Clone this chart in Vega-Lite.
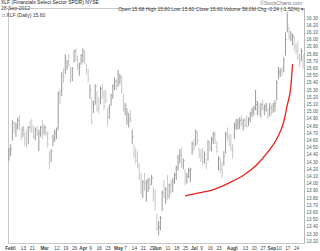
{
  "$schema": "https://vega.github.io/schema/vega-lite/v6.json",
  "width": 296,
  "height": 235,
  "autosize": {"type": "none"},
  "padding": {"left": 8, "top": 8, "right": 16, "bottom": 8},
  "background": "white",
  "title": {
    "text": "XLF (Financials Select Sector SPDR) NYSE",
    "subtitle": "28-Sep-2012",
    "anchor": "start",
    "frame": "group",
    "fontSize": 5,
    "subtitleFontSize": 5,
    "font": "Liberation Sans",
    "subtitleFont": "Liberation Sans",
    "fontWeight": "normal",
    "color": "#222",
    "subtitleColor": "#444",
    "subtitlePadding": 1,
    "offset": -10,
    "dx": -7
  },
  "datasets": {
    "ohlc": [
      {"d":"2012-02-01","o":14.35,"h":14.50,"l":14.32,"c":14.45},
      {"d":"2012-02-02","o":14.45,"h":14.55,"l":14.38,"c":14.48},
      {"d":"2012-02-03","o":14.62,"h":14.88,"l":14.60,"c":14.85},
      {"d":"2012-02-06","o":14.80,"h":14.85,"l":14.70,"c":14.78},
      {"d":"2012-02-07","o":14.75,"h":14.85,"l":14.65,"c":14.80},
      {"d":"2012-02-08","o":14.80,"h":14.92,"l":14.75,"c":14.88},
      {"d":"2012-02-09","o":14.90,"h":14.95,"l":14.75,"c":14.82},
      {"d":"2012-02-10","o":14.70,"h":14.78,"l":14.60,"c":14.65},
      {"d":"2012-02-13","o":14.72,"h":14.80,"l":14.65,"c":14.75},
      {"d":"2012-02-14","o":14.70,"h":14.72,"l":14.52,"c":14.62},
      {"d":"2012-02-15","o":14.65,"h":14.75,"l":14.50,"c":14.55},
      {"d":"2012-02-16","o":14.58,"h":14.80,"l":14.55,"c":14.78},
      {"d":"2012-02-17","o":14.82,"h":14.88,"l":14.72,"c":14.78},
      {"d":"2012-02-21","o":14.82,"h":14.90,"l":14.70,"c":14.80},
      {"d":"2012-02-22","o":14.75,"h":14.80,"l":14.62,"c":14.65},
      {"d":"2012-02-23","o":14.65,"h":14.78,"l":14.60,"c":14.75},
      {"d":"2012-02-24","o":14.78,"h":14.80,"l":14.66,"c":14.70},
      {"d":"2012-02-27","o":14.60,"h":14.75,"l":14.45,"c":14.70},
      {"d":"2012-02-28","o":14.72,"h":14.80,"l":14.65,"c":14.78},
      {"d":"2012-02-29","o":14.80,"h":14.88,"l":14.62,"c":14.66},
      {"d":"2012-03-01","o":14.72,"h":14.82,"l":14.68,"c":14.78},
      {"d":"2012-03-02","o":14.76,"h":14.80,"l":14.66,"c":14.70},
      {"d":"2012-03-05","o":14.65,"h":14.72,"l":14.50,"c":14.55},
      {"d":"2012-03-06","o":14.40,"h":14.45,"l":14.20,"c":14.28},
      {"d":"2012-03-07","o":14.35,"h":14.48,"l":14.30,"c":14.45},
      {"d":"2012-03-08","o":14.55,"h":14.68,"l":14.52,"c":14.62},
      {"d":"2012-03-09","o":14.68,"h":14.75,"l":14.58,"c":14.70},
      {"d":"2012-03-12","o":14.70,"h":14.78,"l":14.62,"c":14.74},
      {"d":"2012-03-13","o":14.78,"h":15.28,"l":14.75,"c":15.25},
      {"d":"2012-03-14","o":15.25,"h":15.32,"l":15.10,"c":15.22},
      {"d":"2012-03-15","o":15.25,"h":15.55,"l":15.22,"c":15.50},
      {"d":"2012-03-16","o":15.50,"h":15.60,"l":15.40,"c":15.48},
      {"d":"2012-03-19","o":15.55,"h":15.80,"l":15.52,"c":15.75},
      {"d":"2012-03-20","o":15.65,"h":15.72,"l":15.58,"c":15.68},
      {"d":"2012-03-21","o":15.70,"h":15.80,"l":15.62,"c":15.65},
      {"d":"2012-03-22","o":15.55,"h":15.62,"l":15.40,"c":15.48},
      {"d":"2012-03-23","o":15.48,"h":15.62,"l":15.42,"c":15.60},
      {"d":"2012-03-26","o":15.70,"h":15.86,"l":15.68,"c":15.84},
      {"d":"2012-03-27","o":15.84,"h":15.88,"l":15.70,"c":15.72},
      {"d":"2012-03-28","o":15.72,"h":15.78,"l":15.58,"c":15.62},
      {"d":"2012-03-29","o":15.55,"h":15.68,"l":15.50,"c":15.62},
      {"d":"2012-03-30","o":15.70,"h":15.80,"l":15.65,"c":15.78},
      {"d":"2012-04-02","o":15.75,"h":15.88,"l":15.68,"c":15.85},
      {"d":"2012-04-03","o":15.82,"h":15.85,"l":15.66,"c":15.72},
      {"d":"2012-04-04","o":15.60,"h":15.66,"l":15.52,"c":15.58},
      {"d":"2012-04-05","o":15.55,"h":15.60,"l":15.40,"c":15.45},
      {"d":"2012-04-09","o":15.25,"h":15.38,"l":15.18,"c":15.30},
      {"d":"2012-04-10","o":15.18,"h":15.20,"l":14.82,"c":14.86},
      {"d":"2012-04-11","o":15.02,"h":15.15,"l":14.98,"c":15.10},
      {"d":"2012-04-12","o":15.12,"h":15.38,"l":15.10,"c":15.35},
      {"d":"2012-04-13","o":15.25,"h":15.28,"l":15.00,"c":15.02},
      {"d":"2012-04-16","o":15.10,"h":15.20,"l":14.98,"c":15.05},
      {"d":"2012-04-17","o":15.12,"h":15.35,"l":15.10,"c":15.32},
      {"d":"2012-04-18","o":15.30,"h":15.38,"l":15.18,"c":15.22},
      {"d":"2012-04-19","o":15.20,"h":15.30,"l":15.02,"c":15.08},
      {"d":"2012-04-20","o":15.20,"h":15.30,"l":15.12,"c":15.15},
      {"d":"2012-04-23","o":14.98,"h":15.05,"l":14.80,"c":14.92},
      {"d":"2012-04-24","o":14.95,"h":15.10,"l":14.90,"c":15.05},
      {"d":"2012-04-25","o":15.12,"h":15.25,"l":15.08,"c":15.22},
      {"d":"2012-04-26","o":15.22,"h":15.38,"l":15.18,"c":15.35},
      {"d":"2012-04-27","o":15.38,"h":15.48,"l":15.30,"c":15.42},
      {"d":"2012-04-30","o":15.40,"h":15.45,"l":15.30,"c":15.35},
      {"d":"2012-05-01","o":15.38,"h":15.58,"l":15.35,"c":15.52},
      {"d":"2012-05-02","o":15.45,"h":15.52,"l":15.38,"c":15.48},
      {"d":"2012-05-03","o":15.48,"h":15.50,"l":15.25,"c":15.30},
      {"d":"2012-05-04","o":15.20,"h":15.25,"l":15.00,"c":15.05},
      {"d":"2012-05-07","o":15.00,"h":15.12,"l":14.95,"c":15.08},
      {"d":"2012-05-08","o":14.95,"h":15.05,"l":14.82,"c":14.98},
      {"d":"2012-05-09","o":14.85,"h":14.98,"l":14.78,"c":14.90},
      {"d":"2012-05-10","o":14.95,"h":15.02,"l":14.85,"c":14.88},
      {"d":"2012-05-11","o":14.60,"h":14.75,"l":14.55,"c":14.65},
      {"d":"2012-05-14","o":14.50,"h":14.55,"l":14.35,"c":14.40},
      {"d":"2012-05-15","o":14.42,"h":14.50,"l":14.28,"c":14.32},
      {"d":"2012-05-16","o":14.35,"h":14.45,"l":14.22,"c":14.25},
      {"d":"2012-05-17","o":14.22,"h":14.28,"l":14.05,"c":14.08},
      {"d":"2012-05-18","o":14.10,"h":14.15,"l":13.85,"c":13.92},
      {"d":"2012-05-21","o":13.92,"h":14.05,"l":13.80,"c":14.02},
      {"d":"2012-05-22","o":14.05,"h":14.15,"l":13.90,"c":14.00},
      {"d":"2012-05-23","o":13.85,"h":14.05,"l":13.75,"c":14.02},
      {"d":"2012-05-24","o":14.02,"h":14.08,"l":13.88,"c":14.05},
      {"d":"2012-05-25","o":14.02,"h":14.08,"l":13.92,"c":13.98},
      {"d":"2012-05-29","o":14.05,"h":14.12,"l":13.98,"c":14.08},
      {"d":"2012-05-30","o":13.90,"h":13.95,"l":13.75,"c":13.80},
      {"d":"2012-05-31","o":13.82,"h":13.92,"l":13.62,"c":13.72},
      {"d":"2012-06-01","o":13.55,"h":13.58,"l":13.35,"c":13.38},
      {"d":"2012-06-04","o":13.38,"h":13.48,"l":13.28,"c":13.40},
      {"d":"2012-06-05","o":13.40,"h":13.55,"l":13.35,"c":13.52},
      {"d":"2012-06-06","o":13.65,"h":13.90,"l":13.62,"c":13.88},
      {"d":"2012-06-07","o":13.98,"h":14.05,"l":13.80,"c":13.82},
      {"d":"2012-06-08","o":13.78,"h":13.95,"l":13.72,"c":13.92},
      {"d":"2012-06-11","o":14.08,"h":14.12,"l":13.78,"c":13.80},
      {"d":"2012-06-12","o":13.85,"h":14.00,"l":13.80,"c":13.98},
      {"d":"2012-06-13","o":13.95,"h":14.05,"l":13.85,"c":13.90},
      {"d":"2012-06-14","o":13.92,"h":14.08,"l":13.88,"c":14.02},
      {"d":"2012-06-15","o":14.05,"h":14.15,"l":14.00,"c":14.12},
      {"d":"2012-06-18","o":14.12,"h":14.25,"l":14.05,"c":14.22},
      {"d":"2012-06-19","o":14.22,"h":14.40,"l":14.18,"c":14.35},
      {"d":"2012-06-20","o":14.35,"h":14.48,"l":14.28,"c":14.40},
      {"d":"2012-06-21","o":14.42,"h":14.50,"l":14.22,"c":14.25},
      {"d":"2012-06-22","o":14.28,"h":14.35,"l":14.20,"c":14.32},
      {"d":"2012-06-25","o":14.15,"h":14.20,"l":13.98,"c":14.02},
      {"d":"2012-06-26","o":14.05,"h":14.15,"l":14.00,"c":14.10},
      {"d":"2012-06-27","o":14.12,"h":14.22,"l":14.08,"c":14.18},
      {"d":"2012-06-28","o":14.10,"h":14.22,"l":14.02,"c":14.20},
      {"d":"2012-06-29","o":14.45,"h":14.58,"l":14.40,"c":14.55},
      {"d":"2012-07-02","o":14.55,"h":14.62,"l":14.45,"c":14.50},
      {"d":"2012-07-03","o":14.55,"h":14.75,"l":14.52,"c":14.72},
      {"d":"2012-07-05","o":14.65,"h":14.72,"l":14.55,"c":14.60},
      {"d":"2012-07-06","o":14.45,"h":14.50,"l":14.35,"c":14.42},
      {"d":"2012-07-09","o":14.40,"h":14.48,"l":14.30,"c":14.38},
      {"d":"2012-07-10","o":14.42,"h":14.50,"l":14.25,"c":14.30},
      {"d":"2012-07-11","o":14.32,"h":14.45,"l":14.28,"c":14.40},
      {"d":"2012-07-12","o":14.30,"h":14.35,"l":14.20,"c":14.28},
      {"d":"2012-07-13","o":14.35,"h":14.60,"l":14.32,"c":14.58},
      {"d":"2012-07-16","o":14.52,"h":14.58,"l":14.45,"c":14.50},
      {"d":"2012-07-17","o":14.55,"h":14.65,"l":14.45,"c":14.62},
      {"d":"2012-07-18","o":14.60,"h":14.72,"l":14.55,"c":14.68},
      {"d":"2012-07-19","o":14.70,"h":14.72,"l":14.55,"c":14.60},
      {"d":"2012-07-20","o":14.50,"h":14.58,"l":14.42,"c":14.45},
      {"d":"2012-07-23","o":14.25,"h":14.38,"l":14.18,"c":14.35},
      {"d":"2012-07-24","o":14.30,"h":14.35,"l":14.15,"c":14.20},
      {"d":"2012-07-25","o":14.22,"h":14.30,"l":14.08,"c":14.15},
      {"d":"2012-07-26","o":14.35,"h":14.45,"l":14.25,"c":14.38},
      {"d":"2012-07-27","o":14.45,"h":14.72,"l":14.42,"c":14.68},
      {"d":"2012-07-30","o":14.68,"h":14.78,"l":14.60,"c":14.65},
      {"d":"2012-07-31","o":14.62,"h":14.70,"l":14.52,"c":14.55},
      {"d":"2012-08-01","o":14.60,"h":14.68,"l":14.45,"c":14.50},
      {"d":"2012-08-02","o":14.48,"h":14.55,"l":14.35,"c":14.45},
      {"d":"2012-08-03","o":14.65,"h":14.85,"l":14.62,"c":14.80},
      {"d":"2012-08-06","o":14.82,"h":14.90,"l":14.75,"c":14.82},
      {"d":"2012-08-07","o":14.80,"h":14.90,"l":14.75,"c":14.85},
      {"d":"2012-08-08","o":14.82,"h":14.92,"l":14.76,"c":14.88},
      {"d":"2012-08-09","o":14.88,"h":14.95,"l":14.80,"c":14.84},
      {"d":"2012-08-10","o":14.80,"h":14.90,"l":14.74,"c":14.88},
      {"d":"2012-08-13","o":14.85,"h":14.92,"l":14.78,"c":14.82},
      {"d":"2012-08-14","o":14.86,"h":14.95,"l":14.78,"c":14.80},
      {"d":"2012-08-15","o":14.82,"h":14.92,"l":14.80,"c":14.90},
      {"d":"2012-08-16","o":14.90,"h":15.00,"l":14.85,"c":14.98},
      {"d":"2012-08-17","o":14.98,"h":15.05,"l":14.92,"c":15.02},
      {"d":"2012-08-20","o":15.00,"h":15.08,"l":14.95,"c":15.05},
      {"d":"2012-08-21","o":15.10,"h":15.30,"l":15.02,"c":15.10},
      {"d":"2012-08-22","o":15.08,"h":15.15,"l":14.95,"c":15.12},
      {"d":"2012-08-23","o":15.05,"h":15.10,"l":14.95,"c":14.98},
      {"d":"2012-08-24","o":14.98,"h":15.12,"l":14.92,"c":15.10},
      {"d":"2012-08-27","o":15.10,"h":15.16,"l":15.02,"c":15.05},
      {"d":"2012-08-28","o":15.02,"h":15.10,"l":14.95,"c":15.06},
      {"d":"2012-08-29","o":15.06,"h":15.12,"l":15.00,"c":15.08},
      {"d":"2012-08-30","o":15.00,"h":15.05,"l":14.90,"c":14.95},
      {"d":"2012-08-31","o":15.00,"h":15.12,"l":14.93,"c":15.05},
      {"d":"2012-09-04","o":15.05,"h":15.10,"l":14.95,"c":15.02},
      {"d":"2012-09-05","o":15.02,"h":15.12,"l":14.98,"c":15.08},
      {"d":"2012-09-06","o":15.05,"h":15.16,"l":15.00,"c":15.12},
      {"d":"2012-09-07","o":15.18,"h":15.44,"l":15.16,"c":15.40},
      {"d":"2012-09-10","o":15.45,"h":15.62,"l":15.45,"c":15.55},
      {"d":"2012-09-11","o":15.52,"h":15.60,"l":15.48,"c":15.58},
      {"d":"2012-09-12","o":15.58,"h":15.62,"l":15.50,"c":15.55},
      {"d":"2012-09-13","o":15.60,"h":15.76,"l":15.55,"c":15.72},
      {"d":"2012-09-14","o":15.80,"h":16.10,"l":15.78,"c":16.00},
      {"d":"2012-09-17","o":16.15,"h":16.38,"l":16.10,"c":16.20},
      {"d":"2012-09-18","o":16.15,"h":16.18,"l":16.00,"c":16.05},
      {"d":"2012-09-19","o":16.05,"h":16.12,"l":15.98,"c":16.08},
      {"d":"2012-09-20","o":16.02,"h":16.08,"l":15.92,"c":16.05},
      {"d":"2012-09-21","o":16.02,"h":16.05,"l":15.85,"c":15.90},
      {"d":"2012-09-24","o":15.88,"h":15.95,"l":15.80,"c":15.85},
      {"d":"2012-09-25","o":15.90,"h":15.98,"l":15.72,"c":15.75},
      {"d":"2012-09-26","o":15.72,"h":15.80,"l":15.62,"c":15.68},
      {"d":"2012-09-27","o":15.72,"h":15.88,"l":15.70,"c":15.84},
      {"d":"2012-09-28","o":15.68,"h":15.80,"l":15.60,"c":15.60}
    ],
    "arc": [
      {"d":"2012-06-25","p":13.83},
      {"d":"2012-07-06","p":13.87},
      {"d":"2012-07-19","p":13.925},
      {"d":"2012-07-31","p":14.01},
      {"d":"2012-08-13","p":14.13},
      {"d":"2012-08-22","p":14.27},
      {"d":"2012-08-30","p":14.44},
      {"d":"2012-09-07","p":14.62},
      {"d":"2012-09-13","p":14.86},
      {"d":"2012-09-17","p":15.09},
      {"d":"2012-09-19","p":15.34},
      {"d":"2012-09-20","p":15.66}
    ]
  },
  "layer": [
    {
      "data": {"name": "ohlc"},
      "mark": {"type": "rule", "strokeWidth": 1},
      "encoding": {
        "x": {
          "field": "d",
          "type": "ordinal",
          "scale": {"type": "point", "padding": 0.5},
          "axis": {
            "orient": "bottom",
            "title": null,
            "domain": false,
            "ticks": false,
            "grid": false,
            "labelAngle": 0,
            "labelOverlap": false,
            "labelBound": false,
            "labelFontSize": 4.7,
            "labelFont": "Liberation Sans",
            "labelColor": "#444",
            "labelPadding": 2,
            "values": ["2012-02-01","2012-02-06","2012-02-13","2012-02-21","2012-03-01","2012-03-12","2012-03-19","2012-03-26","2012-04-02","2012-04-09","2012-04-16","2012-04-23","2012-05-01","2012-05-07","2012-05-14","2012-05-21","2012-05-29","2012-06-01","2012-06-11","2012-06-18","2012-06-25","2012-07-02","2012-07-09","2012-07-16","2012-07-23","2012-08-01","2012-08-06","2012-08-13","2012-08-20","2012-08-27","2012-09-04","2012-09-10","2012-09-17","2012-09-24"],
            "labelExpr": "indexof(['2012-02-01','2012-03-01','2012-04-02','2012-05-01','2012-06-01','2012-07-02','2012-08-01','2012-09-04'], datum.value) >= 0 ? ['Jan','Feb','Mar','Apr','May','Jun','Jul','Aug','Sep'][toNumber(substring(datum.value,5,7))-1] : '' + toNumber(substring(datum.value,8,10))",
            "labelFontWeight": {"condition": {"test": "indexof(['2012-02-01','2012-03-01','2012-04-02','2012-05-01','2012-06-01','2012-07-02','2012-08-01','2012-09-04'], datum.value) >= 0", "value": "bold"}, "value": "normal"}
          }
        },
        "y": {
          "field": "l",
          "type": "quantitative",
          "scale": {"domain": [13.175, 16.44], "nice": false, "zero": false},
          "axis": {
            "orient": "right",
            "title": null,
            "grid": false,
            "tickCount": 40,
            "values": [13.2,13.3,13.4,13.5,13.6,13.7,13.8,13.9,14.0,14.1,14.2,14.3,14.4,14.5,14.6,14.7,14.8,14.9,15.0,15.1,15.2,15.3,15.4,15.5,15.6,15.7,15.8,15.9,16.0,16.1,16.2,16.3],
            "format": ".2f",
            "labelOverlap": false,
            "labelSeparation": 0,
            "labelFontSize": 4.6,
            "labelFont": "Liberation Sans",
            "labelColor": "#555",
            "labelPadding": 1,
            "tickSize": 1,
            "tickColor": "#bbb",
            "domainColor": "#bbb",
            "labelBound": false
          }
        },
        "y2": {"field": "h"},
        "color": {"condition": {"test": "datum.c >= datum.o", "value": "#999999"}, "value": "#c8c8c8"}
      }
    },
    {
      "data": {"name": "ohlc"},
      "mark": {"type": "tick", "size": 1.2, "thickness": 1, "xOffset": 0.9},
      "encoding": {
        "x": {"field": "d", "type": "ordinal"},
        "y": {"field": "c", "type": "quantitative"},
        "color": {"condition": {"test": "datum.c >= datum.o", "value": "#999999"}, "value": "#c8c8c8"}
      }
    },
    {
      "data": {"name": "arc"},
      "mark": {"type": "line", "color": "#e8231f", "strokeWidth": 1.3, "interpolate": "monotone"},
      "encoding": {
        "x": {"field": "d", "type": "ordinal"},
        "y": {"field": "p", "type": "quantitative"}
      }
    },
    {
      "data": {"values": [{"d": "2012-09-28", "p": 16.44, "t": "Open 15.68 High 15.80 Low 15.60 Close 15.60 Volume 58.0M Chg -0.24 (-1.52%) ▾"}]},
      "mark": {"type": "text", "align": "right", "baseline": "middle", "dy": 1, "dx": 1, "fontSize": 5, "font": "Liberation Sans", "color": "#333"},
      "encoding": {
        "x": {"field": "d", "type": "ordinal"},
        "y": {"field": "p", "type": "quantitative"},
        "text": {"field": "t"}
      }
    },
    {
      "data": {"values": [{"d": "2012-09-28", "p": 16.44, "t": "©StockCharts.com"}]},
      "mark": {"type": "text", "align": "right", "baseline": "middle", "dy": -5, "dx": -1, "fontSize": 5, "font": "Liberation Sans", "color": "#777"},
      "encoding": {
        "x": {"field": "d", "type": "ordinal"},
        "y": {"field": "p", "type": "quantitative"},
        "text": {"field": "t"}
      }
    },
    {
      "data": {"values": [{"d": "2012-02-01", "p": 16.44, "t": "□ XLF (Daily) 15.60"}]},
      "mark": {"type": "text", "align": "left", "baseline": "middle", "dy": 6.5, "dx": -7, "fontSize": 5, "font": "Liberation Sans", "color": "#333"},
      "encoding": {
        "x": {"field": "d", "type": "ordinal"},
        "y": {"field": "p", "type": "quantitative"},
        "text": {"field": "t"}
      }
    }
  ],
  "config": {
    "view": {"stroke": "#c8c8c8"},
    "font": "Liberation Sans",
    "axis": {"labelOverlap": false},
    "axisY": {"labelOverlap": false}
  }
}
